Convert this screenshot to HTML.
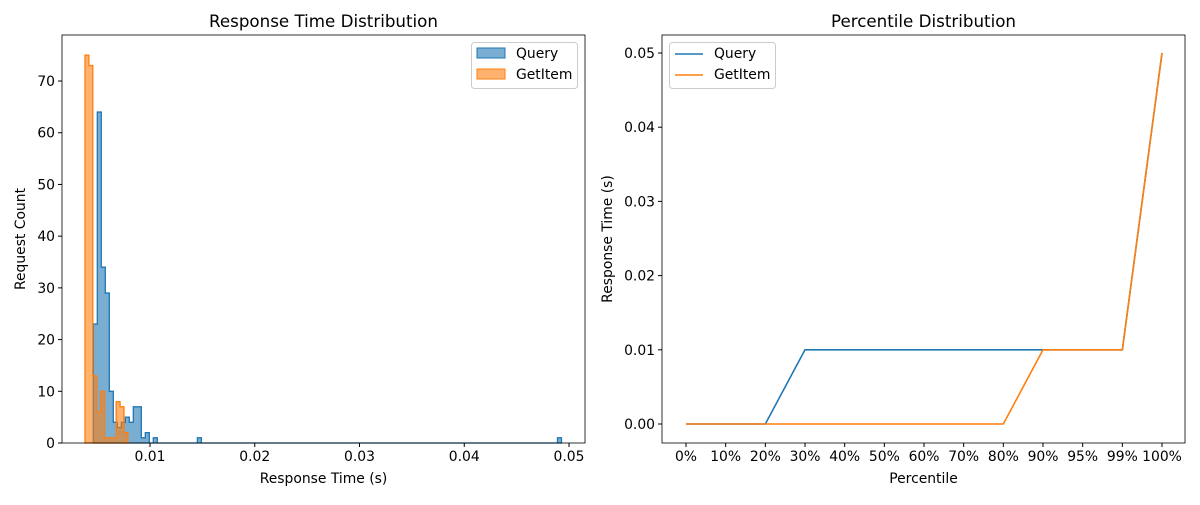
<!DOCTYPE html>
<html><head><meta charset="utf-8"><style>
body{margin:0;background:#fff;}
svg{font-family:"DejaVu Sans","Liberation Sans",sans-serif;}
</style></head><body>
<svg id="c" width="1200" height="500" xmlns="http://www.w3.org/2000/svg"></svg>
<script>
// Left histogram data
const queryBinWidth = 0.000382;
const queryStart = 0.004587;
const queryBinIndex = [0,1,2,3,4,5,6,7,8,9,10,11,12,13,15,26,116];
const queryCounts = [23,64,34,29,10,4,3,4,5,4,7,7,1,2,1,1,1];
const getitemBinWidth = 0.000372;
const getitemStart = 0.003795;
const getitemCounts = [75,73,13,6,10,1,1,1,8,7,2];
const histXTicks = [0.01,0.02,0.03,0.04,0.05];
const histXTickLabels = ["0.01","0.02","0.03","0.04","0.05"];
const histYTicks = [0,10,20,30,40,50,60,70];
// Right percentile data
const percentileLabels = ["0%","10%","20%","30%","40%","50%","60%","70%","80%","90%","95%","99%","100%"];
const queryPercentiles = [0,0,0,0.01,0.01,0.01,0.01,0.01,0.01,0.01,0.01,0.01,0.05];
const getitemPercentiles = [0,0,0,0,0,0,0,0,0,0.01,0.01,0.01,0.05];
const pctYTicks = [0,0.01,0.02,0.03,0.04,0.05];
const pctYTickLabels = ["0.00","0.01","0.02","0.03","0.04","0.05"];

const NS="http://www.w3.org/2000/svg";
const svg=document.getElementById('c');
function mk(tag,attrs,parent,text){const e=document.createElementNS(NS,tag);for(const k in attrs)e.setAttribute(k,attrs[k]);if(text!==undefined)e.textContent=text;(parent||svg).appendChild(e);return e;}
const BLUE="#1f77b4",ORANGE="#ff7f0e";
const FS=13.9, TFS=16.7;

// ---------- Left ----------
const L={x0:62,x1:585,y0:35,y1:443};
const hx=v=>45.25+v*10475;
const hy=v=>443-v*5.171;
const gL=mk('g',{});


function histPath(start,w,counts){
  let d=`M${hx(start)},${hy(0)}`;
  counts.forEach((c,i)=>{const a=hx(start+i*w),b=hx(start+(i+1)*w);d+=` L${a},${hy(c)} L${b},${hy(c)}`;});
  d+=` L${hx(start+counts.length*w)},${hy(0)} Z`;return d;
}
const qDense=[];const qLen=queryBinIndex[queryBinIndex.length-1]+1;
for(let i=0;i<qLen;i++)qDense.push(0);
queryBinIndex.forEach((b,i)=>{qDense[b]=queryCounts[i];});
const qp=mk('path',{d:histPath(queryStart,queryBinWidth,qDense),fill:BLUE,'fill-opacity':0.6,stroke:BLUE,'stroke-width':1.3},gL);


const gp=mk('path',{d:histPath(getitemStart,getitemBinWidth,getitemCounts),fill:ORANGE,'fill-opacity':0.6,stroke:ORANGE,'stroke-width':1.3},gL);


mk('rect',{x:L.x0,y:L.y0,width:L.x1-L.x0,height:L.y1-L.y0,fill:'none',stroke:'#000','stroke-width':0.8},gL);
histXTicks.forEach((t,i)=>{const x=hx(t);mk('line',{x1:x,x2:x,y1:L.y1,y2:L.y1+4,stroke:'#000'},gL);
  const tl=mk('text',{x:x,y:L.y1+18,'font-size':FS,'text-anchor':'middle'},gL,histXTickLabels[i]);
  
  });
histYTicks.forEach(t=>{const y=hy(t);mk('line',{x1:L.x0-4,x2:L.x0,y1:y,y2:y,stroke:'#000'},gL);
  const tl=mk('text',{x:L.x0-7,y:y+5,'font-size':FS,'text-anchor':'end'},gL,String(t));
  
  });
let t=mk('text',{x:(L.x0+L.x1)/2,y:27,'font-size':TFS,'text-anchor':'middle'},gL,'Response Time Distribution');

t=mk('text',{x:(L.x0+L.x1)/2,y:483,'font-size':FS,'text-anchor':'middle'},gL,'Response Time (s)');

t=mk('text',{x:0,y:0,'font-size':FS,'text-anchor':'middle',transform:`translate(25,${(L.y0+L.y1)/2}) rotate(-90)`},gL,'Request Count');

// legend left
const lg=mk('g',{},gL);


mk('rect',{x:471.5,y:42.5,width:106,height:46,rx:3,fill:'#fff',stroke:'#ccc'},lg);
mk('rect',{x:477,y:48,width:28,height:10,fill:BLUE,'fill-opacity':0.6,stroke:BLUE},lg);
mk('text',{x:516,y:58,'font-size':FS},lg,'Query');
mk('rect',{x:477,y:69,width:28,height:10,fill:ORANGE,'fill-opacity':0.6,stroke:ORANGE},lg);
mk('text',{x:516,y:79,'font-size':FS},lg,'GetItem');

// ---------- Right ----------
const R={x0:662,x1:1185,y0:35,y1:443};
const px=i=>686+i*39.667;
const py=v=>424-v*7420;
const gR=mk('g',{});


mk('rect',{x:R.x0,y:R.y0,width:R.x1-R.x0,height:R.y1-R.y0,fill:'none',stroke:'#000','stroke-width':0.8},gR);
percentileLabels.forEach((l,i)=>{const x=px(i);mk('line',{x1:x,x2:x,y1:R.y1,y2:R.y1+4,stroke:'#000'},gR);
  const tl=mk('text',{x:x,y:R.y1+18,'font-size':FS,'text-anchor':'middle'},gR,l);
  
  });
pctYTicks.forEach((v,i)=>{const y=py(v);mk('line',{x1:R.x0-4,x2:R.x0,y1:y,y2:y,stroke:'#000'},gR);
  const tl=mk('text',{x:R.x0-7,y:y+5,'font-size':FS,'text-anchor':'end'},gR,pctYTickLabels[i]);
  
  });
const ql=mk('polyline',{points:queryPercentiles.map((v,i)=>px(i)+','+py(v)).join(' '),fill:'none',stroke:BLUE,'stroke-width':1.6},gR);


const gl=mk('polyline',{points:getitemPercentiles.map((v,i)=>px(i)+','+py(v)).join(' '),fill:'none',stroke:ORANGE,'stroke-width':1.6},gR);


t=mk('text',{x:(R.x0+R.x1)/2,y:27,'font-size':TFS,'text-anchor':'middle'},gR,'Percentile Distribution');

t=mk('text',{x:(R.x0+R.x1)/2,y:483,'font-size':FS,'text-anchor':'middle'},gR,'Percentile');

t=mk('text',{x:0,y:0,'font-size':FS,'text-anchor':'middle',transform:`translate(612,${(R.y0+R.y1)/2}) rotate(-90)`},gR,'Response Time (s)');

const lr=mk('g',{},gR);


mk('rect',{x:669.5,y:42.5,width:106,height:46,rx:3,fill:'#fff',stroke:'#ccc'},lr);
mk('line',{x1:675,x2:703,y1:54,y2:54,stroke:BLUE,'stroke-width':1.6},lr);
mk('text',{x:714,y:58,'font-size':FS},lr,'Query');
mk('line',{x1:675,x2:703,y1:75,y2:75,stroke:ORANGE,'stroke-width':1.6},lr);
mk('text',{x:714,y:79,'font-size':FS},lr,'GetItem');
</script>
</body></html>
